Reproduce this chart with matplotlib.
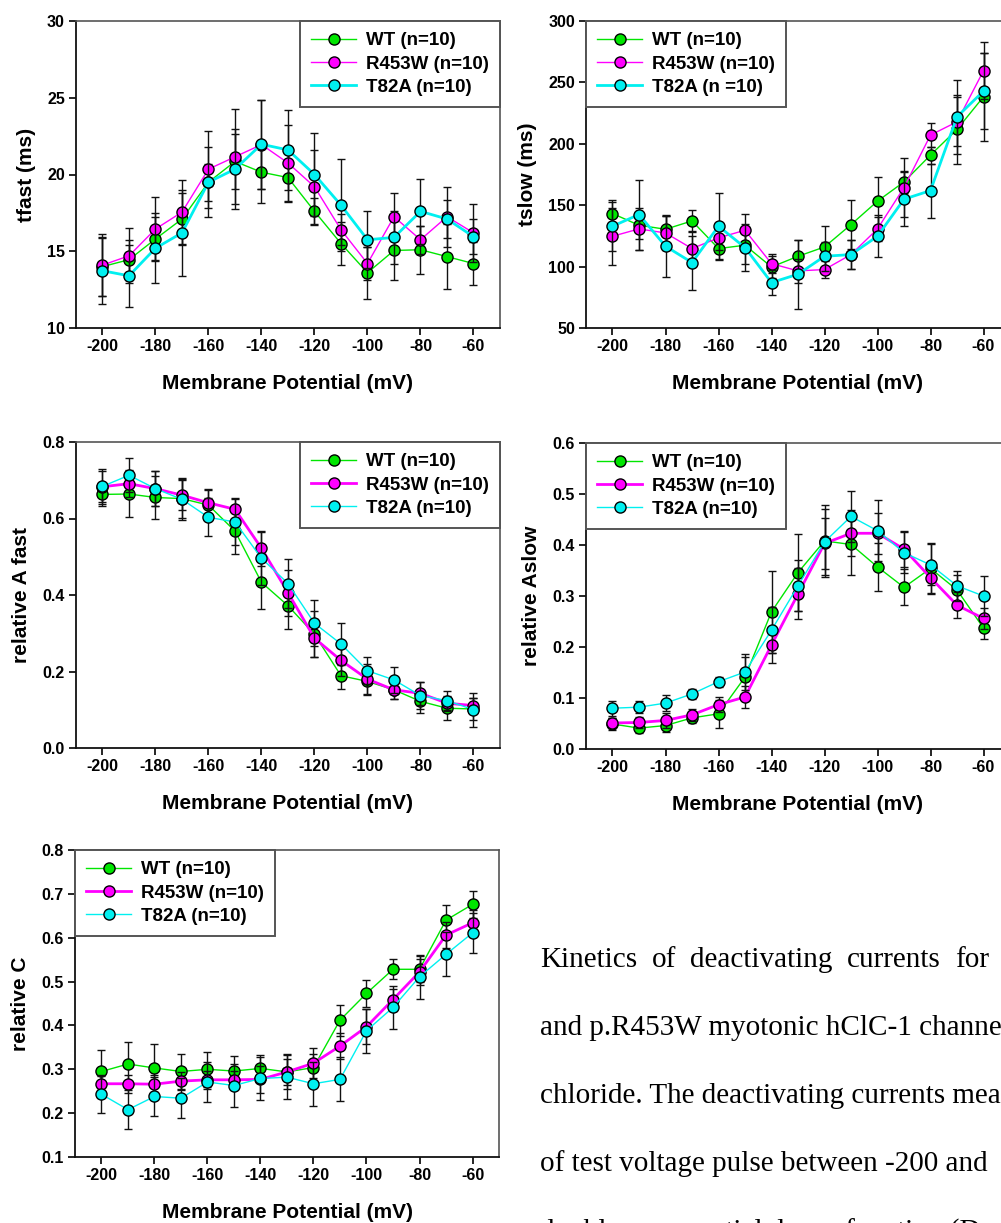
import matplotlib.pyplot as plt


voltage = [-200, -190, -180, -170, -160, -150, -140, -130, -120, -110, -100, -90, -80, -70, -60]

# tfast (ms)
tfast_wt = [14.0, 14.45, 15.8, 17.1, 19.5, 20.85, 20.15, 19.8, 17.6, 15.5, 13.6, 15.05, 15.1, 14.65, 14.2]
tfast_wt_err = [1.9, 1.3, 1.4, 1.7, 1.2, 1.8, 2.0, 1.6, 0.9, 1.4, 1.7, 1.9, 1.55, 2.1, 1.4]
tfast_r = [14.1, 14.7, 16.45, 17.55, 20.35, 21.15, 21.95, 20.75, 19.2, 16.4, 14.2, 17.25, 15.75, 17.25, 16.2]
tfast_r_err = [2.0, 1.8, 2.1, 2.1, 2.5, 3.1, 2.9, 2.5, 2.4, 1.0, 1.1, 1.55, 0.9, 1.95, 1.9]
tfast_t = [13.73, 13.4, 15.2, 16.2, 19.5, 20.35, 21.97, 21.6, 20.0, 18.0, 15.75, 15.9, 17.6, 17.1, 15.95]
tfast_t_err = [2.15, 2.0, 2.3, 2.8, 2.3, 2.6, 2.9, 2.6, 2.7, 3.0, 1.85, 1.7, 2.1, 1.25, 1.15]

# tslow (ms)
tslow_wt = [143.2, 133.7, 130.4, 137.2, 114.7, 117.4, 99.7, 108.4, 116.0, 134.2, 153.3, 169.0, 190.8, 211.7, 238.3]
tslow_wt_err = [11, 11, 12, 9, 9, 15, 9, 13, 17, 20, 20, 9, 7, 28, 36]
tslow_r = [124.7, 130.7, 127.4, 114.7, 123.4, 129.6, 102.4, 96.5, 97.6, 109.8, 130.7, 164.4, 207.1, 217.9, 259.5]
tslow_r_err = [23, 17, 14, 14, 10, 13, 8, 10, 7, 12, 10, 24, 10, 20, 23]
tslow_t = [132.9, 142.4, 116.6, 103.3, 132.9, 115.5, 87.0, 93.8, 108.4, 109.8, 124.7, 154.9, 161.9, 222.0, 242.9]
tslow_t_err = [20, 28.5, 25, 22, 27, 19, 10, 28, 12, 12, 17, 22, 22, 30, 31]

# relative A fast
afast_wt = [0.663, 0.664, 0.655, 0.652, 0.635, 0.567, 0.433, 0.372, 0.297, 0.189, 0.174, 0.152, 0.122, 0.104, 0.102]
afast_wt_err = [0.03, 0.06, 0.055, 0.05, 0.04, 0.06, 0.07, 0.06, 0.06, 0.035, 0.035, 0.025, 0.03, 0.03, 0.03]
afast_r = [0.683, 0.691, 0.678, 0.661, 0.641, 0.624, 0.522, 0.406, 0.287, 0.229, 0.180, 0.152, 0.143, 0.117, 0.111]
afast_r_err = [0.04, 0.035, 0.045, 0.04, 0.035, 0.03, 0.045, 0.06, 0.05, 0.04, 0.04, 0.025, 0.03, 0.02, 0.02]
afast_t = [0.684, 0.713, 0.678, 0.650, 0.603, 0.591, 0.496, 0.430, 0.326, 0.272, 0.202, 0.178, 0.137, 0.124, 0.100]
afast_t_err = [0.045, 0.045, 0.045, 0.055, 0.05, 0.06, 0.07, 0.065, 0.06, 0.055, 0.035, 0.035, 0.035, 0.025, 0.045]

# relative A slow
aslow_wt = [0.049, 0.041, 0.046, 0.061, 0.069, 0.141, 0.269, 0.346, 0.408, 0.401, 0.357, 0.317, 0.354, 0.312, 0.237]
aslow_wt_err = [0.012, 0.01, 0.012, 0.01, 0.027, 0.04, 0.08, 0.075, 0.07, 0.06, 0.047, 0.035, 0.05, 0.03, 0.022]
aslow_r = [0.051, 0.052, 0.056, 0.067, 0.087, 0.102, 0.204, 0.304, 0.403, 0.423, 0.423, 0.392, 0.336, 0.282, 0.256]
aslow_r_err = [0.01, 0.01, 0.015, 0.012, 0.015, 0.022, 0.035, 0.05, 0.05, 0.045, 0.04, 0.035, 0.03, 0.025, 0.02]
aslow_t = [0.080, 0.082, 0.090, 0.108, 0.132, 0.151, 0.233, 0.320, 0.406, 0.456, 0.428, 0.385, 0.361, 0.320, 0.300]
aslow_t_err = [0.015, 0.012, 0.015, 0.01, 0.01, 0.035, 0.045, 0.05, 0.065, 0.05, 0.06, 0.04, 0.04, 0.03, 0.04]

# relative C
c_wt = [0.295, 0.312, 0.303, 0.295, 0.300, 0.296, 0.302, 0.294, 0.304, 0.412, 0.473, 0.528, 0.528, 0.640, 0.676]
c_wt_err = [0.05, 0.05, 0.055, 0.04, 0.04, 0.035, 0.03, 0.03, 0.03, 0.035, 0.03, 0.023, 0.03, 0.035, 0.03]
c_r = [0.267, 0.267, 0.266, 0.273, 0.276, 0.276, 0.277, 0.294, 0.314, 0.353, 0.397, 0.459, 0.522, 0.606, 0.634]
c_r_err = [0.02, 0.02, 0.02, 0.02, 0.02, 0.02, 0.03, 0.04, 0.035, 0.03, 0.04, 0.025, 0.03, 0.03, 0.03]
c_t = [0.243, 0.208, 0.238, 0.234, 0.271, 0.263, 0.279, 0.282, 0.267, 0.277, 0.388, 0.441, 0.511, 0.562, 0.611]
c_t_err = [0.042, 0.045, 0.045, 0.045, 0.045, 0.05, 0.05, 0.05, 0.05, 0.05, 0.05, 0.05, 0.05, 0.05, 0.045]

caption_lines = [
	["Kinetics", "of", "deactivating", "currents", "for"],
	["and p.R453W myotonic hClC-1 channe"],
	["chloride. The deactivating currents mea"],
	["of test voltage pulse between -200 and"],
	["double exponential decay function (D"],
]

GREEN = '#00e600'
MAGENTA = '#ff00ff'
CYAN = '#00f0f0'

W, H = 1001, 1223


def px_axes(fig, left, top, right, bottom):
	return fig.add_axes([left / W, 1 - bottom / H, (right - left) / W, (bottom - top) / H])


def panel(ax, series, ylim, yticks, ylabel, labels, thick, legend_loc):
	colors = [GREEN, MAGENTA, CYAN]
	for i, (y, err) in enumerate(series):
		lw = 2.0 if i == thick else 1.0
		ax.errorbar(voltage, y, yerr=err, fmt='none', ecolor='#111111', elinewidth=1.0,
		            capsize=3.2, capthick=1.0, zorder=2 + i)
		ax.plot(voltage, y, '-o', color=colors[i], lw=lw, markersize=8,
		        markerfacecolor=colors[i], markeredgecolor='black', markeredgewidth=1.0,
		        label=labels[i], zorder=2.5 + i)

	ax.set_xlim(-210, -50)
	ax.set_ylim(*ylim)
	ax.set_xticks(range(-200, -59, 20))
	ax.set_yticks(yticks)
	ax.set_yticklabels([f"{t:g}" if isinstance(t, int) else f"{t:.1f}" for t in yticks])
	ax.tick_params(direction='out', length=5, width=1.2, labelsize=11.5, pad=3)
	for lab in ax.get_xticklabels() + ax.get_yticklabels():
		lab.set_fontweight('bold')
	for side in ['left', 'bottom']:
		ax.spines[side].set_linewidth(1.3)
		ax.spines[side].set_color('#111111')
	for side in ['top', 'right']:
		ax.spines[side].set_linewidth(1.2)
		ax.spines[side].set_color('#555555')

	ax.set_xlabel("Membrane Potential (mV)", fontsize=15, fontweight='bold', labelpad=14)
	ax.set_ylabel(ylabel, fontsize=15, fontweight='bold', labelpad=8)

	if legend_loc == 'right':
		leg = ax.legend(loc='upper right', bbox_to_anchor=(1.0, 1.0), borderaxespad=0)
	else:
		leg = ax.legend(loc='upper left', bbox_to_anchor=(0.0, 1.0), borderaxespad=0)
	leg.get_frame().set_edgecolor('#555555')
	leg.get_frame().set_linewidth(1.4)
	for t in leg.get_texts():
		t.set_fontweight('bold')
	return ax


def main():
	plt.rcParams['font.family'] = ['Liberation Sans', 'DejaVu Sans']
	plt.rcParams['axes.unicode_minus'] = False
	plt.rcParams['legend.fancybox'] = False
	plt.rcParams['legend.fontsize'] = 13.5
	plt.rcParams['legend.handlelength'] = 2.4
	plt.rcParams['legend.handletextpad'] = 0.5
	plt.rcParams['legend.labelspacing'] = 0.33
	plt.rcParams['legend.borderpad'] = 0.6
	plt.rcParams['legend.borderaxespad'] = 0
	plt.rcParams['legend.framealpha'] = 1.0

	fig = plt.figure(figsize=(W / 100, H / 100), dpi=100)

	labels = ["WT (n=10)", "R453W (n=10)", "T82A (n=10)"]
	labels_b = ["WT (n=10)", "R453W (n=10)", "T82A (n =10)"]

	ax1 = px_axes(fig, 76, 21, 500, 328)
	panel(ax1, [(tfast_wt, tfast_wt_err), (tfast_r, tfast_r_err), (tfast_t, tfast_t_err)],
	      (10, 30), [10, 15, 20, 25, 30], "tfast (ms)", labels, 2, 'right')

	ax2 = px_axes(fig, 586, 21, 1010, 328)
	panel(ax2, [(tslow_wt, tslow_wt_err), (tslow_r, tslow_r_err), (tslow_t, tslow_t_err)],
	      (50, 300), [50, 100, 150, 200, 250, 300], "tslow (ms)", labels_b, 2, 'left')

	ax3 = px_axes(fig, 76, 442, 500, 748)
	panel(ax3, [(afast_wt, afast_wt_err), (afast_r, afast_r_err), (afast_t, afast_t_err)],
	      (0, 0.8), [0.0, 0.2, 0.4, 0.6, 0.8], "relative A fast", labels, 1, 'right')

	ax4 = px_axes(fig, 586, 443, 1010, 749)
	panel(ax4, [(aslow_wt, aslow_wt_err), (aslow_r, aslow_r_err), (aslow_t, aslow_t_err)],
	      (0, 0.6), [0.0, 0.1, 0.2, 0.3, 0.4, 0.5, 0.6], "relative Aslow", labels, 1, 'left')

	ax5 = px_axes(fig, 75, 850, 499, 1157)
	panel(ax5, [(c_wt, c_wt_err), (c_r, c_r_err), (c_t, c_t_err)],
	      (0.1, 0.8), [0.1, 0.2, 0.3, 0.4, 0.5, 0.6, 0.7, 0.8], "relative C", labels, 1, 'left')

	# caption: justified first line, words spread between 540 and 988 px
	serif = ['Liberation Serif', 'DejaVu Serif']
	first = caption_lines[0]
	word_x = [540, 652, 690, 847, 955]
	for w, x in zip(first, word_x):
		fig.text(x / W, 1 - 960 / H, w, fontsize=21, family=serif, va='center', ha='left')
	for i, line in enumerate(caption_lines[1:], start=1):
		fig.text(540 / W, 1 - (960 + i * 68) / H, line[0], fontsize=21,
		         family=serif, va='center', ha='left')

	fig.savefig("out.png", dpi=100)


if __name__ == '__main__':
	main()
